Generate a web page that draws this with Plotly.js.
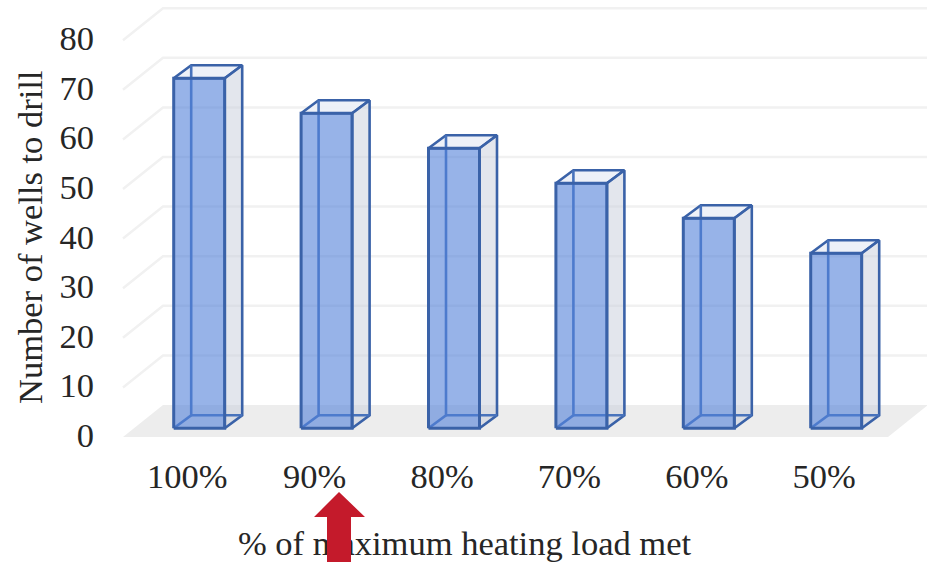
<!DOCTYPE html>
<html>
<head>
<meta charset="utf-8">
<script src="https://cdn.plot.ly/plotly-3.0.1.min.js"></script>
<style>html,body{margin:0;padding:0;background:#fff}#chart{width:927px;height:562px}</style>
</head>
<body>
<div id="chart"></div>
<script>
// Wells required for each share of the maximum heating load
const categories = ['100%', '90%', '80%', '70%', '60%', '50%'];
const wells = [70, 63, 56, 49, 42, 35];
const wallTicks = [0, 10, 20, 30, 40, 50, 60, 70, 80];

const W = 927, H = 562;

// Oblique projection settings, in axis units
const pxPerCat = 127.4, catOrigin = 199.2;
const barPxPerUnit = 5, barZero = 428.3;
const wallPxPerUnit = 4.96, wallZero = 437;
const halfBar = 25.5 / pxPerCat;
const barDepthX = 17.5 / pxPerCat, barDepthY = 13 / barPxPerUnit;
const wallDepthX = 40 / pxPerCat, wallDepthY = 32 / wallPxPerUnit;
const floorLeft = (123 - catOrigin) / pxPerCat, floorRight = (888 - catOrigin) / pxPerCat;
const wallEnd = (927 - catOrigin) / pxPerCat;

const EDGE = '#3A62A8', BACK_EDGE = '#4873BC', GRID = '#F1F1F1';
const TEXT_FONT = {family: 'Liberation Serif', size: 34.5, color: '#262626'};
const traces = [];

function poly(xs, ys, yaxis, opts) {
  traces.push(Object.assign({
    type: 'scatter', mode: 'lines', x: xs, y: ys, xaxis: 'x', yaxis: yaxis,
    hoverinfo: 'skip', showlegend: false
  }, opts));
}

// Floor of the plot box
poly([floorLeft, floorRight, floorRight + wallDepthX, floorLeft + wallDepthX, floorLeft],
     [0, 0, wallDepthY, wallDepthY, 0], 'y',
     {fill: 'toself', fillcolor: '#EDEDED', line: {width: 0}});

// Gridlines running along the side wall and across the back wall
wallTicks.filter(v => v > 0).forEach(v => {
  poly([floorLeft, floorLeft + wallDepthX, wallEnd], [v, v + wallDepthY, v + wallDepthY], 'y',
       {line: {color: GRID, width: 2.5}});
});

// Translucent boxes, one per category
wells.forEach((v, i) => {
  const l = i - halfBar, r = i + halfBar, dx = barDepthX, dy = barDepthY;
  // top face
  poly([l, r, r + dx, l + dx, l], [v, v, v + dy, v + dy, v], 'y2',
       {fill: 'toself', fillcolor: 'rgba(236,239,247,0.9)', line: {color: EDGE, width: 2.6}});
  // side face
  poly([r, r + dx, r + dx, r, r], [0, dy, v + dy, v, 0], 'y2',
       {fill: 'toself', fillcolor: 'rgba(200,206,220,0.5)', line: {color: EDGE, width: 2.6}});
  // hidden edges seen through the front
  poly([l, l + dx, l + dx], [0, dy, v + dy], 'y2', {line: {color: BACK_EDGE, width: 2.6}});
  poly([l + dx, r + dx], [dy, dy], 'y2', {line: {color: BACK_EDGE, width: 2.6}});
  // front face
  poly([l, r, r, l, l], [0, 0, v, v, 0], 'y2',
       {fill: 'toself', fillcolor: 'rgba(82,129,216,0.6)', line: {color: EDGE, width: 3}});
});

// Horizontal axis title, kept in the plot layer so the arrow sits over it
traces.push({
  type: 'scatter', mode: 'text', x: [(464.5 - catOrigin) / pxPerCat], y: [(barZero - 546.5) / barPxPerUnit],
  text: ['% of maximum heating load met'], textposition: 'middle center',
  textfont: TEXT_FONT,
  xaxis: 'x', yaxis: 'y2', hoverinfo: 'skip', showlegend: false, cliponaxis: false
});

const fx = px => px / W, fy = py => 1 - py / H;
const arrowPts = [[339, 492], [365, 517], [351, 517], [351, 562], [327, 562], [327, 517], [314, 517]];
const arrowPath = 'M' + arrowPts.map(p => fx(p[0]) + ',' + fy(p[1])).join(' L') + ' Z';

const layout = {
  width: W, height: H,
  margin: {l: 0, r: 0, t: 0, b: 0, pad: 0},
  paper_bgcolor: '#fff', plot_bgcolor: '#fff',
  showlegend: false,
  font: TEXT_FONT,
  xaxis: {
    range: [-catOrigin / pxPerCat, (W - catOrigin) / pxPerCat],
    domain: [0, 1], anchor: 'free', position: fy(448),
    tickmode: 'array', tickvals: categories.map((_, i) => i - 12 / pxPerCat), ticktext: categories,
    showgrid: false, zeroline: false, showline: false, ticks: '',
    tickfont: TEXT_FONT, ticklabelstandoff: 4
  },
  yaxis: {
    range: [(wallZero - H) / wallPxPerUnit, wallZero / wallPxPerUnit],
    domain: [0, 1], anchor: 'free', position: fx(94),
    tickmode: 'array', tickvals: wallTicks, ticktext: wallTicks.map(String),
    showgrid: false, zeroline: false, showline: false, ticks: '',
    tickfont: TEXT_FONT, ticklabelshift: -2
  },
  yaxis2: {
    range: [(barZero - H) / barPxPerUnit, barZero / barPxPerUnit],
    domain: [0, 1], overlaying: 'y', visible: false
  },
  annotations: [{
    text: 'Number of wells to drill', textangle: -90, showarrow: false,
    xref: 'paper', yref: 'paper', x: fx(30), y: fy(238), xanchor: 'center', yanchor: 'middle',
    font: TEXT_FONT
  }],
  shapes: [{
    type: 'path', xref: 'paper', yref: 'paper', path: arrowPath,
    fillcolor: '#C41A2B', line: {width: 0}, layer: 'above'
  }]
};

Plotly.newPlot('chart', traces, layout, {staticPlot: true, displayModeBar: false});
</script>
</body>
</html>
